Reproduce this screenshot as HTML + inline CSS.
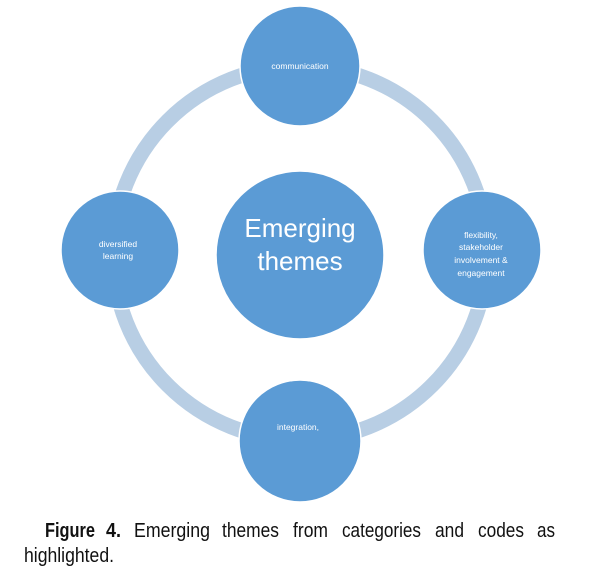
<!DOCTYPE html>
<html><head><meta charset="utf-8"><style>
html,body{margin:0;padding:0;background:#fff;}
svg{display:block}
</style></head><body>
<svg width="601" height="575" viewBox="0 0 601 575" xmlns="http://www.w3.org/2000/svg">
<circle cx="300" cy="253" r="187" fill="none" stroke="#b8cee4" stroke-width="15"/>
<g fill="#5b9bd5" stroke="#ffffff" stroke-width="1.5">
<circle cx="300" cy="66" r="60"/>
<circle cx="300" cy="255" r="84"/>
<circle cx="120" cy="250" r="59"/>
<circle cx="482" cy="250" r="59"/>
<circle cx="300" cy="441" r="61"/>
</g>
<g fill="#ffffff" font-family="'Liberation Sans',sans-serif" text-anchor="middle">
<text x="300" y="69" font-size="8.5">communication</text>
<text x="300" y="237" font-size="26">Emerging</text>
<text x="300" y="270" font-size="26">themes</text>
<text x="118" y="247" font-size="8.5">diversified</text>
<text x="118" y="259" font-size="8.5">learning</text>
<text x="481" y="238" font-size="8.5">flexibility,</text>
<text x="481" y="250" font-size="8.5">stakeholder</text>
<text x="481" y="263" font-size="8.5">involvement &amp;</text>
<text x="481" y="276" font-size="8.5">engagement</text>
<text x="298" y="430" font-size="8.5">integration,</text>
</g>
<g fill="#111" font-family="'Liberation Sans',sans-serif" font-size="20">
<text x="45" y="537" textLength="50" lengthAdjust="spacingAndGlyphs" font-weight="bold">Figure</text>
<text x="106" y="537" textLength="15" lengthAdjust="spacingAndGlyphs" font-weight="bold">4.</text>
<text x="134" y="537" textLength="76" lengthAdjust="spacingAndGlyphs">Emerging</text>
<text x="222" y="537" textLength="57" lengthAdjust="spacingAndGlyphs">themes</text>
<text x="293" y="537" textLength="35" lengthAdjust="spacingAndGlyphs">from</text>
<text x="342" y="537" textLength="79" lengthAdjust="spacingAndGlyphs">categories</text>
<text x="435" y="537" textLength="29" lengthAdjust="spacingAndGlyphs">and</text>
<text x="478" y="537" textLength="46" lengthAdjust="spacingAndGlyphs">codes</text>
<text x="537" y="537" textLength="18" lengthAdjust="spacingAndGlyphs">as</text>
<text x="24" y="562" textLength="90" lengthAdjust="spacingAndGlyphs">highlighted.</text>
</g>
</svg>
</body></html>
